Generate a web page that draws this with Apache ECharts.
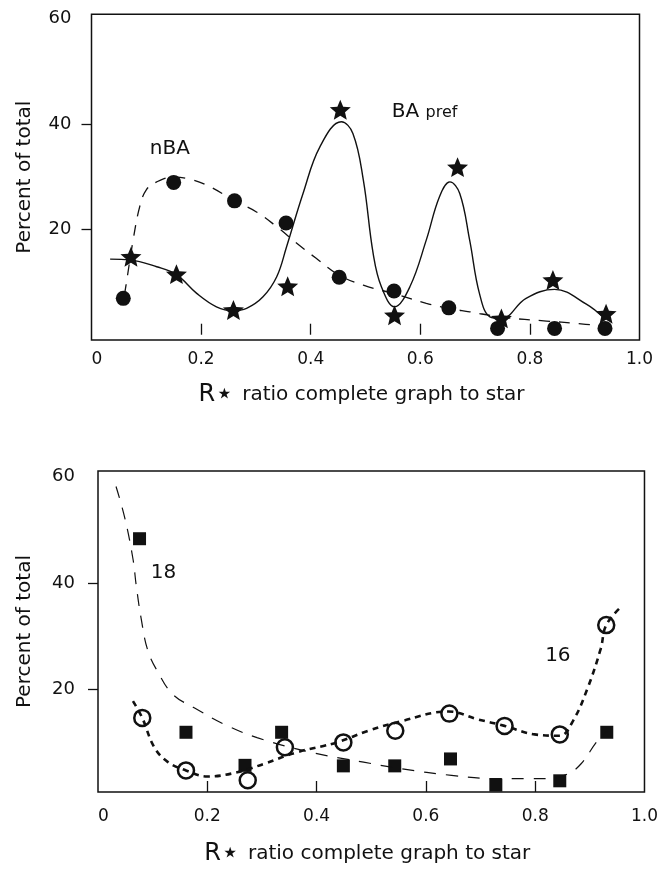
<!DOCTYPE html>
<html><head><meta charset="utf-8">
<script src="https://cdn.jsdelivr.net/npm/echarts@6/dist/echarts.min.js"></script>
<style>html,body{margin:0;padding:0;background:#fff}#c{width:661px;height:870px}</style>
</head><body><div id="c"></div>
<script>
// ---------- shared ticks ----------
const xTickValues = [0.2, 0.4, 0.6, 0.8];
const yLabelValues = [20, 40, 60];
const yTickValues = [20, 40];

// ---------- top panel: nBA (dots) and BA pref (stars) ----------
const nbaX = [0.058, 0.150, 0.261, 0.355, 0.452, 0.552, 0.652, 0.741, 0.845, 0.937];
const nbaY = [6.9, 28.9, 25.4, 21.2, 10.9, 8.3, 5.1, 1.2, 1.2, 1.2];
const baprefX = [0.072, 0.155, 0.259, 0.358, 0.454, 0.553, 0.668, 0.748, 0.842, 0.939];
const baprefY = [14.8, 11.5, 4.7, 9.2, 42.7, 3.7, 31.8, 3.1, 10.4, 4.0];
// fitted curves
const nbaFitX = [0.060, 0.063, 0.076, 0.088, 0.100, 0.119, 0.149, 0.180, 0.216, 0.261, 0.301, 0.338, 0.374, 0.410, 0.452, 0.496, 0.550, 0.611, 0.652, 0.690, 0.751, 0.830, 0.885, 0.936];
const nbaFitY = [7.5, 9.4, 18.0, 24.3, 27.5, 29.0, 29.9, 29.5, 28.1, 25.4, 23.3, 20.5, 17.4, 14.5, 11.3, 9.4, 7.85, 5.95, 5.0, 4.35, 3.3, 2.6, 2.15, 1.6];
const baprefFitX = [0.034, 0.070, 0.119, 0.155, 0.192, 0.228, 0.259, 0.283, 0.313, 0.338, 0.356, 0.386, 0.417, 0.456, 0.477, 0.496, 0.514, 0.529, 0.553, 0.581, 0.611, 0.635, 0.654, 0.672, 0.690, 0.708, 0.727, 0.748, 0.793, 0.845, 0.903, 0.936];
const baprefFitY = [14.35, 14.2, 12.9, 11.4, 7.85, 5.3, 4.54, 5.0, 7.2, 11.0, 16.7, 26.8, 35.7, 40.4, 38.2, 29.4, 15.4, 9.1, 5.3, 9.1, 18.0, 26.2, 29.0, 26.8, 18.0, 7.8, 3.4, 3.1, 6.9, 8.6, 5.8, 3.1];

// ---------- bottom panel: 18 (squares) and 16 (open circles) ----------
const s18X = [0.076, 0.161, 0.269, 0.336, 0.449, 0.543, 0.645, 0.728, 0.845, 0.931];
const s18Y = [48.3, 12.0, 5.8, 12.0, 5.7, 5.7, 7.0, 2.1, 2.9, 12.0];
const s16X = [0.081, 0.161, 0.274, 0.342, 0.449, 0.544, 0.643, 0.744, 0.845, 0.930];
const s16Y = [14.7, 4.85, 3.0, 9.2, 10.1, 12.3, 15.5, 13.2, 11.6, 32.1];
const fit18X = [0.033, 0.049, 0.064, 0.070, 0.079, 0.091, 0.109, 0.137, 0.176, 0.231, 0.291, 0.389, 0.486, 0.556, 0.647, 0.726, 0.781, 0.823, 0.860, 0.884, 0.914, 0.933];
const fit18Y = [58.1, 52.2, 44.5, 39.5, 33.3, 27.4, 23.4, 19.1, 16.6, 13.5, 11.0, 8.25, 6.4, 5.14, 3.92, 3.3, 3.3, 3.3, 4.2, 6.1, 10.4, 12.3];
const fit16X = [0.064, 0.081, 0.103, 0.128, 0.161, 0.200, 0.255, 0.304, 0.364, 0.437, 0.495, 0.556, 0.641, 0.696, 0.744, 0.799, 0.845, 0.869, 0.896, 0.920, 0.930, 0.957];
const fit16Y = [17.85, 14.7, 9.2, 6.4, 4.85, 3.7, 4.5, 6.1, 8.25, 10.1, 12.3, 14.1, 15.9, 14.4, 13.2, 11.6, 11.35, 14.1, 20.3, 27.7, 32.1, 35.5];

// annotation labels (text, x, y in data units)
const topNotes = [['nBA', 0.143, 35.3, 'center'], ['{a|BA} {b|pref}', 0.548, 42.3, 'left']];
const bottomNotes = [['18', 0.120, 42.0, 'center'], ['16', 0.8415, 26.4, 'center']];

const zip = (xs, ys) => xs.map((x, i) => [x, ys[i]]);
const INK = '#111';
const FONT = 'DejaVu Sans';
const STAR = 'path://M50,0 L63.2,31.8 L97.6,34.5 L71.4,56.9 L79.4,90.5 L50,72.5 L20.6,90.5 L28.6,56.9 L2.4,34.5 L36.8,31.8 Z';

function xAxisFor(gridIndex, labelMargin, nameGap) {
  return {
    type: 'value', gridIndex, min: 0, max: 1, interval: 0.2,
    axisLine: { show: false },
    splitLine: { show: false },
    axisTick: { show: true, inside: true, length: 11, customValues: xTickValues, lineStyle: { color: INK, width: 1.3 } },
    axisLabel: { color: INK, fontFamily: FONT, fontSize: 17, margin: labelMargin, alignMinLabel: 'left',
      formatter: v => (v === 0 ? '0' : v.toFixed(1)) },
    name: '{r|R}{s|⋆}{t| ratio complete graph to star}',
    nameLocation: 'middle', nameGap,
    nameTextStyle: { color: INK, fontFamily: FONT, padding: [0, 8, 0, 0],
      rich: { r: { fontSize: 24, fontFamily: FONT, color: INK },
              s: { fontSize: 30, fontFamily: FONT, color: INK, padding: [0, 2, 0, 0] },
              t: { fontSize: 20, fontFamily: FONT, color: INK } } }
  };
}
function yAxisFor(gridIndex, min, max, nameGap, labelMargin) {
  return {
    type: 'value', gridIndex, min, max,
    axisLine: { show: false },
    splitLine: { show: false },
    axisTick: { show: true, inside: false, length: 10, customValues: yTickValues, lineStyle: { color: INK, width: 1.3 } },
    axisLabel: { color: INK, fontFamily: FONT, fontSize: 18, margin: labelMargin, customValues: yLabelValues },
    name: 'Percent of total', nameLocation: 'middle', nameGap, nameRotate: 90,
    nameTextStyle: { color: INK, fontFamily: FONT, fontSize: 20 }
  };
}
function noteSeries(notes, xi, yi) {
  return {
    type: 'scatter', xAxisIndex: xi, yAxisIndex: yi, symbolSize: 0, silent: true, z: 5,
    itemStyle: { opacity: 1 },
    data: notes.map(n => ({ value: [n[1], n[2]], label: { show: true, formatter: n[0], position: 'inside', align: n[3],
      color: INK, fontFamily: FONT, fontSize: 20,
      rich: { a: { fontSize: 20, fontFamily: FONT, color: INK }, b: { fontSize: 16, fontFamily: FONT, color: INK, padding: [3, 0, 0, 0] } } } }))
  };
}

const chart = echarts.init(document.getElementById('c'), null, { renderer: 'canvas' });
chart.setOption({
  backgroundColor: '#fff',
  animation: false,
  grid: [
    { left: 91.5, top: 14.3, width: 548, height: 325.7, show: true, borderColor: INK, borderWidth: 1.5, backgroundColor: 'transparent' },
    { left: 98, top: 471, width: 549, height: 324, show: true, borderColor: INK, borderWidth: 1.5, backgroundColor: 'transparent' }
  ],
  xAxis: [xAxisFor(0, 11, 40), xAxisFor(1, 16, 47)],
  yAxis: [yAxisFor(0, -1, 60.8, 57, 20), yAxisFor(1, 0.8, 61, 63, 23)],
  series: [
    { type: 'line', xAxisIndex: 0, yAxisIndex: 0, data: zip(nbaFitX, nbaFitY), smooth: 0.4, showSymbol: false, symbol: 'none',
      lineStyle: { color: INK, width: 1.3, type: [11, 9] }, z: 2 },
    { type: 'line', xAxisIndex: 0, yAxisIndex: 0, data: zip(baprefFitX, baprefFitY), smooth: 0.4, showSymbol: false, symbol: 'none',
      lineStyle: { color: INK, width: 1.4 }, z: 2 },
    { type: 'scatter', xAxisIndex: 0, yAxisIndex: 0, data: zip(nbaX, nbaY), symbol: 'circle', symbolSize: 15,
      itemStyle: { color: INK, opacity: 1 }, z: 3 },
    { type: 'scatter', xAxisIndex: 0, yAxisIndex: 0, data: zip(baprefX, baprefY), symbol: STAR, symbolSize: 21, symbolKeepAspect: true,
      itemStyle: { color: INK, opacity: 1 }, z: 3 },
    noteSeries(topNotes, 0, 0),

    { type: 'scatter', xAxisIndex: 1, yAxisIndex: 1, data: zip(s18X, s18Y), symbol: 'rect', symbolSize: 13,
      itemStyle: { color: INK, opacity: 1 }, z: 2 },
    { type: 'scatter', xAxisIndex: 1, yAxisIndex: 1, data: zip(s16X, s16Y), symbol: 'circle', symbolSize: 16,
      itemStyle: { color: '#fff', borderColor: INK, borderWidth: 2.5, opacity: 1 }, z: 3 },
    { type: 'line', xAxisIndex: 1, yAxisIndex: 1, data: zip(fit18X, fit18Y), smooth: 0.4, showSymbol: false, symbol: 'none',
      lineStyle: { color: INK, width: 1.2, type: [12, 10] }, z: 4 },
    { type: 'line', xAxisIndex: 1, yAxisIndex: 1, data: zip(fit16X, fit16Y), smooth: 0.4, showSymbol: false, symbol: 'none',
      lineStyle: { color: INK, width: 2.6, type: [6, 5] }, z: 4 },
    noteSeries(bottomNotes, 1, 1)
  ]
});
</script></body></html>
